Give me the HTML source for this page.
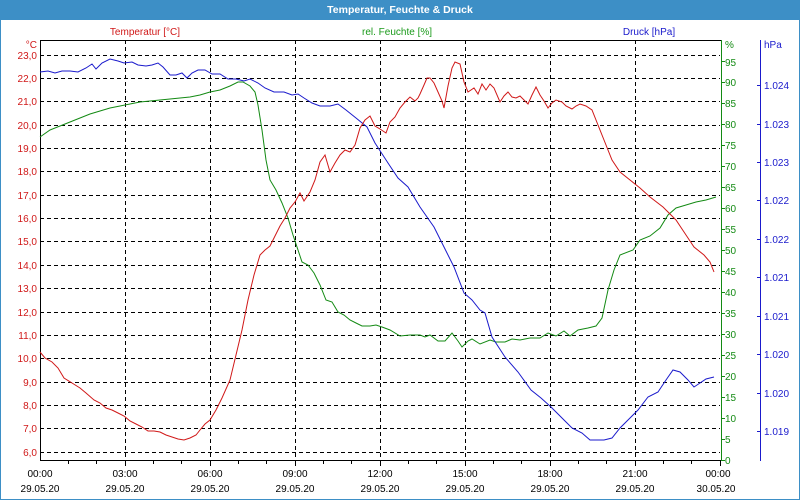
<!DOCTYPE html>
<html><head><meta charset="utf-8"><style>
html,body{margin:0;padding:0;background:#fff;width:800px;height:500px;overflow:hidden}
svg{display:block;font-family:"Liberation Sans","DejaVu Sans",sans-serif}
</style></head><body>
<svg width="800" height="500" viewBox="0 0 800 500" xmlns="http://www.w3.org/2000/svg">
<rect x="0" y="0" width="800" height="500" fill="#fff"/>
<rect x="0.5" y="0.5" width="799" height="499" fill="none" stroke="#3d8fc6"/>
<rect x="0" y="0" width="800" height="20" fill="#3d8fc6"/>
<text x="400" y="13" fill="#fff" font-size="10.5" font-weight="bold" text-anchor="middle">Temperatur, Feuchte &amp; Druck</text>
<g font-size="10" text-anchor="middle">
<text x="145" y="35" fill="#d01818">Temperatur [°C]</text>
<text x="397" y="35" fill="#1a9a1a">rel. Feuchte [%]</text>
<text x="649" y="35" fill="#1a1acc">Druck [hPa]</text>
</g>
<g stroke="#000" stroke-width="1" stroke-dasharray="4,3" fill="none">
<path d="M40 55.5H720M40 78.5H720M40 101.5H720M40 125.5H720M40 148.5H720M40 171.5H720M40 195.5H720M40 218.5H720M40 241.5H720M40 265.5H720M40 288.5H720M40 312.5H720M40 335.5H720M40 358.5H720M40 382.5H720M40 405.5H720M40 428.5H720M40 452.5H720"/>
<path d="M125.5 40V460M210.5 40V460M295.5 40V460M380.5 40V460M465.5 40V460M550.5 40V460M635.5 40V460"/>
</g>
<g stroke="#000" fill="none">
<path d="M40.5 40V461M40 40.5H721M40 460.5H721"/>
<path d="M68.5 461v3M96.5 461v3M125.5 461v5M153.5 461v3M181.5 461v3M210.5 461v5M238.5 461v3M266.5 461v3M295.5 461v5M323.5 461v3M351.5 461v3M380.5 461v5M408.5 461v3M436.5 461v3M465.5 461v5M493.5 461v3M521.5 461v3M550.5 461v5M578.5 461v3M606.5 461v3M635.5 461v5M663.5 461v3M691.5 461v3M720.5 461v5"/>
</g>
<path d="M721.5 40V461" stroke="#138a13"/>
<path d="M721 460.5h4M721 439.5h4M721 418.5h4M721 397.5h4M721 376.5h4M721 355.5h4M721 334.5h4M721 313.5h4M721 292.5h4M721 271.5h4M721 250.5h4M721 229.5h4M721 208.5h4M721 187.5h4M721 166.5h4M721 145.5h4M721 124.5h4M721 103.5h4M721 82.5h4M721 61.5h4" stroke="#138a13"/>
<path d="M760.5 40V461M757 85.5h3M757 124.5h3M757 162.5h3M757 200.5h3M757 239.5h3M757 277.5h3M757 316.5h3M757 354.5h3M757 393.5h3M757 431.5h3" stroke="#1a1acc"/>
<g font-size="10" fill="#d01818" text-anchor="end">
<text x="37" y="48">°C</text>
<text x="37" y="59">23,0</text><text x="37" y="82">22,0</text><text x="37" y="105">21,0</text><text x="37" y="129">20,0</text><text x="37" y="152">19,0</text><text x="37" y="175">18,0</text><text x="37" y="199">17,0</text><text x="37" y="222">16,0</text><text x="37" y="245">15,0</text><text x="37" y="269">14,0</text><text x="37" y="292">13,0</text><text x="37" y="316">12,0</text><text x="37" y="339">11,0</text><text x="37" y="362">10,0</text><text x="37" y="386">9,0</text><text x="37" y="409">8,0</text><text x="37" y="432">7,0</text><text x="37" y="456">6,0</text>
</g>
<g font-size="10" fill="#138a13">
<text x="725" y="48">%</text>
<text x="725" y="66">95</text><text x="725" y="86">90</text><text x="725" y="107">85</text><text x="725" y="128">80</text><text x="725" y="149">75</text><text x="725" y="170">70</text><text x="725" y="191">65</text><text x="725" y="212">60</text><text x="725" y="233">55</text><text x="725" y="254">50</text><text x="725" y="275">45</text><text x="725" y="296">40</text><text x="725" y="317">35</text><text x="725" y="338">30</text><text x="725" y="359">25</text><text x="725" y="380">20</text><text x="725" y="401">15</text><text x="725" y="422">10</text><text x="725" y="443">5</text><text x="725" y="464">0</text>
</g>
<g font-size="10" fill="#1a1acc">
<text x="764" y="48">hPa</text>
<text x="764" y="89">1.024</text><text x="764" y="128">1.023</text><text x="764" y="166">1.023</text><text x="764" y="204">1.022</text><text x="764" y="243">1.022</text><text x="764" y="281">1.021</text><text x="764" y="320">1.021</text><text x="764" y="358">1.020</text><text x="764" y="397">1.020</text><text x="764" y="435">1.019</text>
</g>
<g font-size="10" fill="#000" text-anchor="middle">
<text x="40" y="477">00:00</text><text x="125" y="477">03:00</text><text x="210" y="477">06:00</text><text x="295" y="477">09:00</text><text x="380" y="477">12:00</text><text x="465" y="477">15:00</text><text x="550" y="477">18:00</text><text x="635" y="477">21:00</text><text x="718" y="477">00:00</text>
<text x="40" y="492">29.05.20</text><text x="125" y="492">29.05.20</text><text x="210" y="492">29.05.20</text><text x="295" y="492">29.05.20</text><text x="380" y="492">29.05.20</text><text x="465" y="492">29.05.20</text><text x="550" y="492">29.05.20</text><text x="635" y="492">29.05.20</text><text x="716" y="492">30.05.20</text>
</g>
<polyline fill="none" stroke="#138a13" stroke-width="1" points="40,137 50,130 60,126 70,122 80,118 90,114 100,111 110,108 120,106 130,104 140,102 150,101 160,100 170,99 180,98 190,97 200,95 210,92 220,90 230,86 238,82 243,82 250,86 255,92 258,105 262,130 266,160 270,180 276,190 282,203 288,218 293,235 298,250 302,262 308,265 314,273 320,285 326,300 332,302 338,312 344,315 350,320 356,323 362,326 370,326 376,325 382,327 390,330 400,336 410,335 420,335 425,337 430,335 438,341 445,341 452,333 458,341 462,347 468,341 472,339 480,344 490,340 496,342 505,342 512,339 520,340 530,338 540,338 548,333 556,336 564,331 570,336 578,330 588,328 596,326 602,318 608,290 614,270 620,255 633,250 640,240 650,236 660,228 668,215 676,208 686,205 696,202 706,200 716,197"/>
<polyline fill="none" stroke="#1a1acc" stroke-width="1" points="40,72 48,71 55,73 62,71 70,71 78,72 86,68 92,64 96,69 102,63 110,59 118,61 124,63 132,62 138,65 146,66 152,65 158,63 163,67 170,75 176,75 182,73 187,78 192,73 198,70 205,70 212,74 220,74 228,79 236,79 244,81 250,79 258,83 265,88 274,92 284,92 292,95 298,94 304,98 312,103 320,106 330,106 338,104 346,110 356,118 367,127 375,143 388,163 398,178 408,187 420,207 434,227 444,247 454,267 464,293 472,300 480,310 485,313 492,337 505,357 518,372 531,390 541,398 551,407 562,418 572,428 582,433 590,440 604,440 612,438 620,428 630,418 638,410 648,397 658,392 666,380 673,370 680,372 688,380 694,387 700,383 706,379 714,377"/>
<polyline fill="none" stroke="#d01818" stroke-width="1" points="40,352 45,358 52,362 58,368 64,378 72,383 80,388 86,393 94,400 100,403 106,408 112,410 118,413 124,416 130,421 136,424 142,427 148,431 154,431 160,432 166,435 172,437 178,439 184,440 190,438 196,435 200,430 205,424 210,420 216,410 222,398 230,380 236,355 242,330 248,300 254,275 260,255 265,250 270,246 275,236 280,226 285,218 290,208 295,202 300,193 304,201 310,192 315,180 320,162 325,155 330,172 335,163 340,155 345,150 350,152 355,145 360,128 365,120 370,116 375,126 380,129 386,133 390,122 395,117 400,108 405,102 410,97 415,101 418,98 420,94 424,85 427,78 430,78 434,83 438,92 442,101 444,108 448,86 452,68 455,62 460,64 464,82 468,92 474,88 478,94 482,84 486,90 490,84 494,88 500,102 504,96 508,92 512,97 516,98 520,96 524,100 528,104 532,95 536,87 540,95 544,101 548,108 552,103 556,100 562,102 566,106 572,109 576,106 580,104 586,106 592,110 598,125 604,140 612,160 620,172 630,180 640,188 650,197 663,207 676,220 686,235 694,247 704,255 710,262 714,272"/>
</svg>
</body></html>
